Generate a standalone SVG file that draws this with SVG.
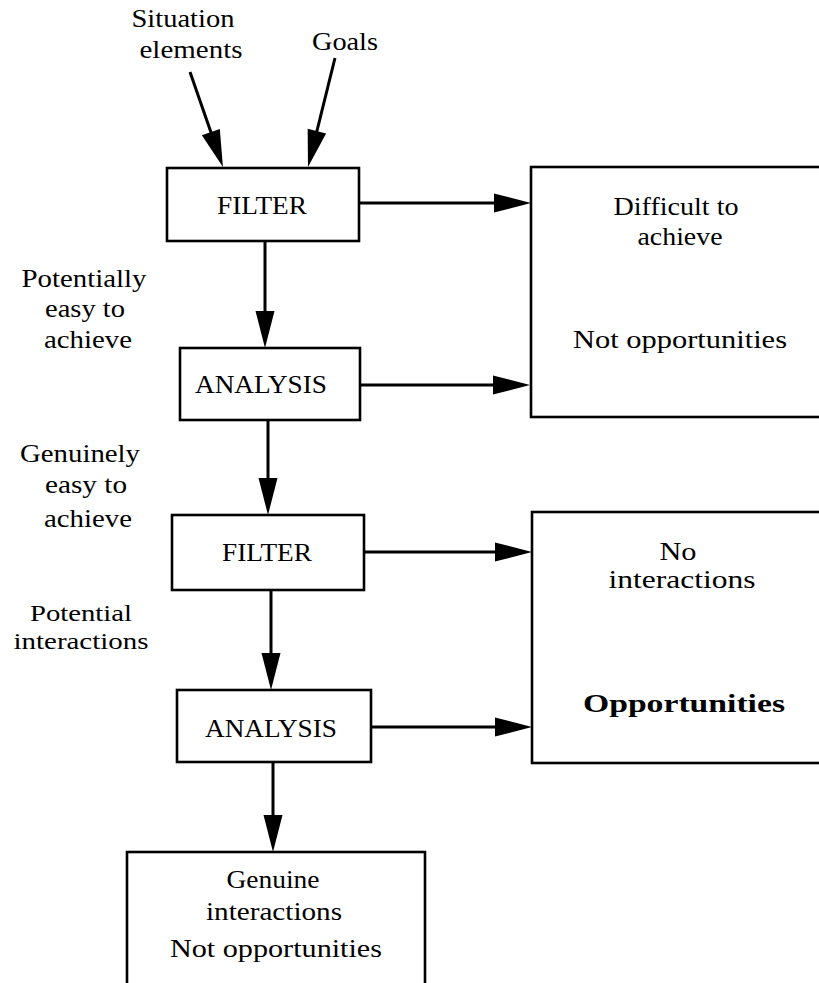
<svg xmlns="http://www.w3.org/2000/svg" width="819" height="983" viewBox="0 0 819 983">
  <style>
    .box { fill: #ffffff; stroke: #000000; stroke-width: 2.6; }
    .conn { fill: none; stroke: #000000; stroke-width: 3; marker-end: url(#head); }
    text { font-family: "Liberation Serif", "Times New Roman", serif; font-size: 26px; fill: #000000; text-anchor: middle; }
    .bold { font-weight: bold; }
    .tight { font-size: 24px; }
  </style>
  <defs>
    <!-- solid triangular arrowhead; the tip sits 20px past the line end -->
    <marker id="head" markerUnits="userSpaceOnUse" markerWidth="38" markerHeight="20" refX="17" refY="9.5" orient="auto" overflow="visible">
      <path d="M0,0 L37,9.5 L0,19 Z" fill="#000000"/>
    </marker>
  </defs>

  <rect width="819" height="983" fill="#ffffff"/>

  <!-- input labels -->
  <g id="inputs">
    <text x="183" y="27" textLength="103" lengthAdjust="spacingAndGlyphs">Situation</text>
    <text x="191" y="58" textLength="103" lengthAdjust="spacingAndGlyphs">elements</text>
    <text x="345" y="50" textLength="66" lengthAdjust="spacingAndGlyphs">Goals</text>
  </g>

  <!-- connectors -->
  <g id="connectors">
    <line class="conn" x1="190" y1="72" x2="216.4" y2="148.1"/>
    <line class="conn" x1="335" y1="58" x2="312.8" y2="147.6"/>
    <line class="conn" x1="359" y1="203" x2="511" y2="203"/>
    <line class="conn" x1="265" y1="241" x2="265" y2="328"/>
    <line class="conn" x1="360" y1="385" x2="510" y2="385"/>
    <line class="conn" x1="268" y1="420" x2="268" y2="495"/>
    <line class="conn" x1="364" y1="552" x2="512" y2="552"/>
    <line class="conn" x1="271" y1="590" x2="271" y2="670"/>
    <line class="conn" x1="371" y1="727" x2="512" y2="727"/>
    <line class="conn" x1="273" y1="762" x2="273" y2="832"/>
  </g>

  <g id="filter1">
    <rect class="box" x="167" y="168" width="192" height="73"/>
    <text x="262" y="214" textLength="90" lengthAdjust="spacingAndGlyphs">FILTER</text>
  </g>

  <g id="rejected-difficult">
    <rect class="box" x="531" y="167" width="300" height="250"/>
    <text x="676" y="215" textLength="125" lengthAdjust="spacingAndGlyphs">Difficult to</text>
    <text x="680" y="245" textLength="85" lengthAdjust="spacingAndGlyphs">achieve</text>
    <text x="680" y="348" textLength="214" lengthAdjust="spacingAndGlyphs">Not opportunities</text>
  </g>

  <g id="label-potentially-easy">
    <text x="84" y="287" textLength="125" lengthAdjust="spacingAndGlyphs">Potentially</text>
    <text x="85" y="317" textLength="80" lengthAdjust="spacingAndGlyphs">easy to</text>
    <text x="88" y="348" textLength="88" lengthAdjust="spacingAndGlyphs">achieve</text>
  </g>

  <g id="analysis1">
    <rect class="box" x="180" y="348" width="180" height="72"/>
    <text x="261" y="393" textLength="132" lengthAdjust="spacingAndGlyphs">ANALYSIS</text>
  </g>

  <g id="label-genuinely-easy">
    <text x="80" y="462" textLength="120" lengthAdjust="spacingAndGlyphs">Genuinely</text>
    <text x="86" y="493" textLength="82" lengthAdjust="spacingAndGlyphs">easy to</text>
    <text x="88" y="527" textLength="88" lengthAdjust="spacingAndGlyphs">achieve</text>
  </g>

  <g id="filter2">
    <rect class="box" x="172" y="515" width="192" height="75"/>
    <text x="267" y="561" textLength="90" lengthAdjust="spacingAndGlyphs">FILTER</text>
  </g>

  <g id="label-potential-interactions">
    <text class="tight" x="81" y="621" textLength="102" lengthAdjust="spacingAndGlyphs">Potential</text>
    <text class="tight" x="81" y="649" textLength="135" lengthAdjust="spacingAndGlyphs">interactions</text>
  </g>

  <g id="opportunities">
    <rect class="box" x="532" y="512" width="300" height="251"/>
    <text x="678" y="560" textLength="37" lengthAdjust="spacingAndGlyphs">No</text>
    <text x="682" y="588" textLength="147" lengthAdjust="spacingAndGlyphs">interactions</text>
    <text class="bold" x="684" y="712" textLength="202" lengthAdjust="spacingAndGlyphs">Opportunities</text>
  </g>

  <g id="analysis2">
    <rect class="box" x="177" y="690" width="194" height="72"/>
    <text x="271" y="737" textLength="132" lengthAdjust="spacingAndGlyphs">ANALYSIS</text>
  </g>

  <g id="genuine-interactions">
    <rect class="box" x="127" y="852" width="298" height="150"/>
    <text x="273" y="888" textLength="93" lengthAdjust="spacingAndGlyphs">Genuine</text>
    <text x="274" y="920" textLength="136" lengthAdjust="spacingAndGlyphs">interactions</text>
    <text x="276" y="957" textLength="212" lengthAdjust="spacingAndGlyphs">Not opportunities</text>
  </g>
</svg>
